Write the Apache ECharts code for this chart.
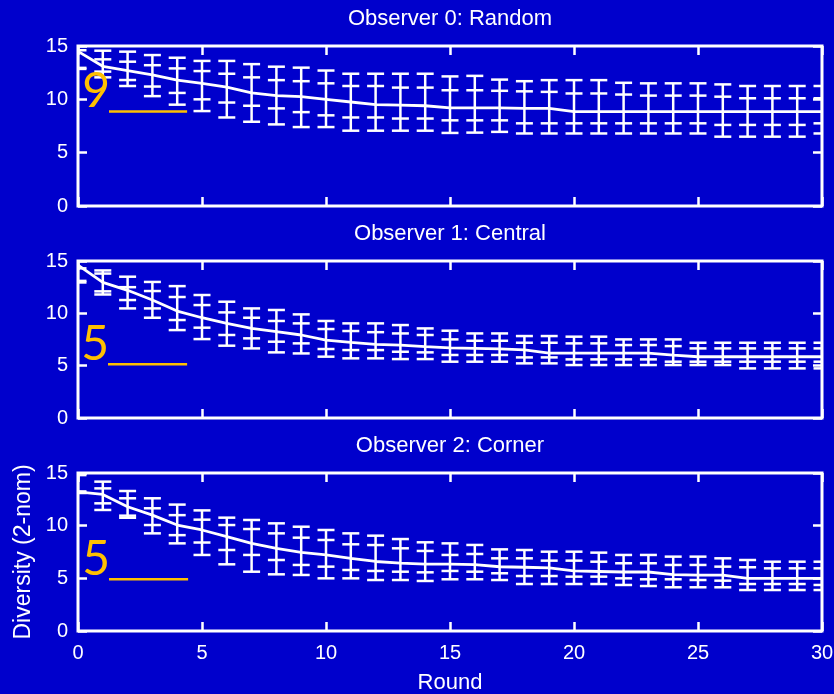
<!DOCTYPE html>
<html><head><meta charset="utf-8">
<script src="https://cdn.jsdelivr.net/npm/echarts@6/dist/echarts.min.js"></script>
<style>html,body{margin:0;padding:0;background:#0000CC;} #c{width:834px;height:694px;}</style>
</head><body><div id="c"></div>
<script>
const rounds = [0,1,2,3,4,5,6,7,8,9,10,11,12,13,14,15,16,17,18,19,20,21,22,23,24,25,26,27,28,29,30];
const titles = ['Observer 0: Random', 'Observer 1: Central', 'Observer 2: Corner'];
const xTickLabels = ['0','5','10','15','20','25','30'];
const yTickLabels = ['0','5','10','15'];

// Observer 0: Random
const mean0    = [14.5,13.1,12.7,12.3,11.8,11.5,11.15,10.6,10.35,10.25,10.0,9.75,9.5,9.45,9.4,9.2,9.2,9.2,9.15,9.15,8.85,8.85,8.85,8.85,8.85,8.85,8.85,8.85,8.85,8.85,8.85];
const outerHi0 = [15.9,14.56,14.47,14.15,13.9,13.6,13.6,13.3,13.06,12.97,12.7,12.4,12.4,12.4,12.4,12.15,12.2,11.85,11.7,11.8,11.8,11.8,11.55,11.5,11.5,11.5,11.4,11.25,11.25,11.25,11.25];
const innerHi0 = [14.6,13.75,13.53,13.2,12.9,12.65,12.4,12.06,11.8,11.7,11.5,11.25,11.25,11.1,11.1,10.85,10.85,10.8,10.75,10.7,10.55,10.55,10.45,10.35,10.35,10.35,10.25,10.1,10.1,10.1,10.1];
const innerLo0 = [12.95,12.6,11.81,11.2,10.6,10.0,9.7,9.4,9.15,8.8,8.5,8.3,8.3,8.2,8.2,8.03,8.03,8.03,7.75,7.75,7.75,7.75,7.75,7.75,7.75,7.75,7.6,7.6,7.6,7.6,7.75];
const outerLo0 = [12.85,12.06,11.25,10.3,9.5,8.9,8.3,7.9,7.65,7.4,7.4,7.06,7.06,7.06,7.06,6.85,6.88,6.95,6.8,6.8,6.8,6.8,6.8,6.8,6.8,6.8,6.5,6.5,6.5,6.5,6.8];

// Observer 1: Central
const mean1    = [14.6,12.96,12.2,11.27,10.22,9.58,9.04,8.56,8.25,7.93,7.45,7.23,7.04,6.97,6.81,6.7,6.65,6.6,6.5,6.2,6.2,6.2,6.2,6.2,6.0,5.85,5.85,5.85,5.85,5.85,5.85];
const outerHi1 = [15.9,14.1,13.5,13.0,12.6,11.75,11.11,10.47,10.32,9.9,9.27,9.04,9.04,8.88,8.56,8.34,8.08,8.08,7.83,7.83,7.77,7.77,7.51,7.51,7.51,7.19,7.19,7.19,7.19,7.19,7.19];
const innerHi1 = [14.3,13.8,12.5,12.13,11.56,10.79,10.09,9.58,9.27,9.04,8.5,8.31,8.2,8.08,7.93,7.51,7.38,7.38,7.19,7.19,7.13,7.13,6.97,6.97,6.87,6.65,6.65,6.65,6.65,6.65,6.65];
const innerLo1 = [13.1,12.1,11.27,10.47,9.36,8.63,7.93,7.61,7.29,7.13,6.59,6.49,6.49,6.33,6.27,6.02,6.02,6.02,5.79,5.79,5.6,5.6,5.6,5.6,5.38,5.38,5.38,5.38,5.38,5.38,5.38];
const outerLo1 = [12.95,11.8,10.47,9.58,8.4,7.54,6.91,6.65,6.27,6.17,5.86,5.7,5.7,5.63,5.63,5.38,5.38,5.38,5.22,5.22,5.06,5.06,5.06,5.06,5.06,5.06,5.06,4.74,4.74,4.74,4.74];

// Observer 2: Corner
const mean2    = [13.2,12.97,11.8,11.0,10.06,9.59,8.96,8.32,7.85,7.47,7.22,6.9,6.6,6.45,6.35,6.35,6.3,6.1,6.05,6.0,5.7,5.65,5.6,5.6,5.35,5.3,5.3,5.0,5.0,5.0,5.0];
const outerHi2 = [15.9,14.18,13.29,12.6,12.0,11.45,10.76,10.54,10.22,9.9,9.59,9.27,9.05,8.73,8.42,8.32,8.17,7.75,7.69,7.53,7.53,7.44,7.22,7.22,7.06,7.06,6.9,6.74,6.58,6.58,6.58];
const innerHi2 = [14.8,13.54,12.6,11.65,11.0,10.57,10.06,9.68,9.27,8.86,8.64,8.23,8.16,7.85,7.6,7.22,7.31,6.9,6.9,6.68,6.68,6.58,6.43,6.43,6.27,6.27,6.11,6.05,5.95,5.95,5.95];
const innerLo2 = [13.25,12.12,10.95,10.06,9.1,8.4,7.69,7.22,6.74,6.27,6.11,5.79,5.7,5.63,5.57,5.7,5.63,5.48,5.22,5.22,5.16,5.16,5.0,4.91,4.91,4.84,4.78,4.46,4.46,4.46,4.37];
const outerLo2 = [13.1,11.49,10.75,9.27,8.32,7.22,6.33,5.63,5.38,5.32,5.0,5.0,4.84,4.84,4.75,4.91,4.91,4.84,4.46,4.46,4.46,4.46,4.37,4.27,4.15,4.15,4.15,3.89,3.89,3.89,3.89];

// Hand-drawn yellow marks: [label, round from, round to, level]
const notes = [['9', 1.25, 4.4, 8.86], ['5', 1.21, 4.4, 5.13], ['5', 1.25, 4.44, 4.91]];

const panels = [
  {mean: mean0, oHi: outerHi0, iHi: innerHi0, iLo: innerLo0, oLo: outerLo0},
  {mean: mean1, oHi: outerHi1, iHi: innerHi1, iLo: innerLo1, oLo: outerLo1},
  {mean: mean2, oHi: outerHi2, iHi: innerHi2, iLo: innerLo2, oLo: outerLo2}
];

const FONT = 'Liberation Sans';
const WHITE = '#ffffff';
const gridLayout = [{top: 46, height: 160}, {top: 261, height: 157}, {top: 473, height: 158}];

const grid = gridLayout.map(g => ({left: 78, right: 12, top: g.top, height: g.height, show: true,
  containLabel: false, outerBoundsMode: 'none',
  borderColor: WHITE, borderWidth: 3, backgroundColor: 'transparent'}));

const xAxis = [], yAxis = [], series = [];
const tick = () => ({show: true, inside: true, length: 9, lineStyle: {color: WHITE, width: 2.5}});

panels.forEach((p, i) => {
  const last = i === 2;
  xAxis.push({type: 'value', gridIndex: i, position: 'bottom', min: 0, max: 30, interval: 5,
    axisLine: {show: false, onZero: false}, axisTick: tick(), splitLine: {show: false},
    axisLabel: {show: last, color: WHITE, fontSize: 20, fontFamily: FONT, margin: 12,
      formatter: v => xTickLabels[Math.round(v / 5)]},
    name: last ? 'Round' : '', nameLocation: 'middle', nameGap: 41,
    nameTextStyle: {color: WHITE, fontSize: 22, fontFamily: FONT}});
  xAxis.push({type: 'value', gridIndex: i, position: 'top', min: 0, max: 30, interval: 5,
    axisLine: {show: false, onZero: false}, axisTick: tick(), splitLine: {show: false}, axisLabel: {show: false}});
  yAxis.push({type: 'value', gridIndex: i, position: 'left', min: 0, max: 15, interval: 5,
    axisLine: {show: false, onZero: false}, axisTick: tick(), splitLine: {show: false},
    axisLabel: {color: WHITE, fontSize: 20, fontFamily: FONT, margin: 10,
      formatter: v => yTickLabels[Math.round(v / 5)]},
    name: last ? 'Diversity (2-nom)' : '', nameLocation: 'middle', nameGap: 42, nameRotate: 90,
    nameTextStyle: {color: WHITE, fontSize: 23, fontFamily: FONT}});
  yAxis.push({type: 'value', gridIndex: i, position: 'right', min: 0, max: 15, interval: 5,
    axisLine: {show: false, onZero: false}, axisTick: tick(), splitLine: {show: false}, axisLabel: {show: false}});

  const xi = i * 2, yi = i * 2;
  series.push({
    type: 'custom', xAxisIndex: xi, yAxisIndex: yi, clip: true, z: 3,
    data: rounds.map((r, k) => [r, p.oHi[k], p.iHi[k], p.iLo[k], p.oLo[k]]),
    encode: {x: 0, y: [1, 2, 3, 4]},
    renderItem: (params, api) => {
      const x = api.value(0);
      const top = api.coord([x, api.value(1)]);
      const bot = api.coord([x, api.value(4)]);
      const hw = 8.5;
      const st = {stroke: WHITE, lineWidth: 2.5};
      const children = [{type: 'line', shape: {x1: top[0], y1: top[1], x2: bot[0], y2: bot[1]}, style: st}];
      [1, 2, 3, 4].forEach(d => {
        const c = api.coord([x, api.value(d)]);
        children.push({type: 'line', shape: {x1: c[0] - hw, y1: c[1], x2: c[0] + hw, y2: c[1]}, style: st});
      });
      return {type: 'group', children};
    }
  });
  series.push({
    type: 'line', xAxisIndex: xi, yAxisIndex: yi, clip: true, z: 4,
    data: rounds.map((r, k) => [r, p.mean[k]]),
    showSymbol: false, symbol: 'none',
    lineStyle: {color: WHITE, width: 2.8}
  });
  series.push({
    type: 'custom', xAxisIndex: xi, yAxisIndex: yi, z: 6,
    data: [notes[i]],
    renderItem: (params, api) => {
      const a = api.coord([api.value(1), api.value(3)]);
      const b = api.coord([api.value(2), api.value(3)]);
      return {type: 'group', children: [
        {type: 'line', shape: {x1: a[0], y1: a[1], x2: b[0], y2: b[1]}, style: {stroke: '#FFC000', lineWidth: 2.5}},
        {type: 'text', x: a[0] + 1, y: a[1] - 20, style: {text: notes[i][0], fill: '#FFC000',
          font: '48px Lato', align: 'right', verticalAlign: 'middle'}}
      ]};
    }
  });
});

const chart = echarts.init(document.getElementById('c'), null, {renderer: 'canvas'});
chart.setOption({
  backgroundColor: '#0000CC',
  animation: false,
  grid, xAxis, yAxis, series,
  graphic: titles.map((t, i) => ({type: 'text', x: 450, y: gridLayout[i].top - 27,
    style: {text: t, fill: WHITE, font: '22px "Liberation Sans"', align: 'center', verticalAlign: 'middle'}}))
});
</script></body></html>
